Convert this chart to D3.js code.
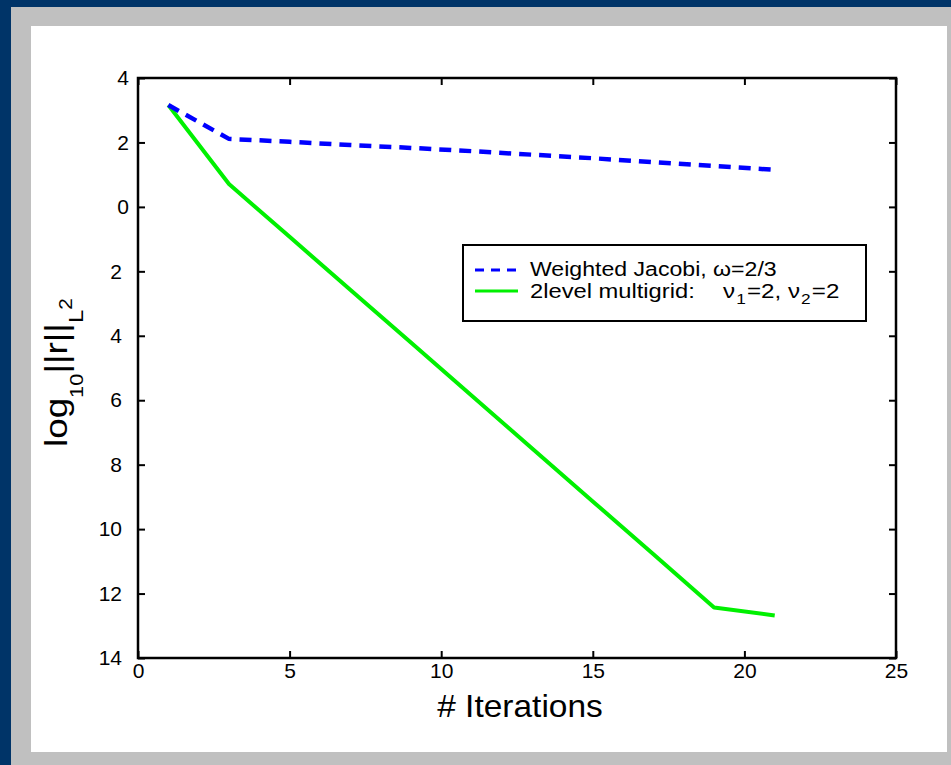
<!DOCTYPE html>
<html>
<head>
<meta charset="utf-8">
<script src="https://cdn.jsdelivr.net/npm/d3@7"></script>
<style>
  body { margin: 0; background: #003468; }
  svg { display: block; }
  .keep-space { white-space: pre; }
</style>
</head>
<body>
<svg id="chart" width="951" height="765"></svg>
<script>
// Residual norm history (log10 of the L2 norm) per iteration
const iterations = [1, 3, 5, 7, 9, 11, 13, 15, 17, 19, 21];
const jacobiResidual = [3.16, 2.11, 2.02, 1.92, 1.83, 1.73, 1.62, 1.51, 1.39, 1.27, 1.15];
const multigridResidual = [3.16, 0.71, -0.93, -2.57, -4.21, -5.85, -7.50, -9.14, -10.78, -12.43, -12.68];

// Axis ticks and their printed labels
const xTickValues = [0, 5, 10, 15, 20, 25];
const yTickValues = [4, 2, 0, -2, -4, -6, -8, -10, -12, -14];
const yTickLabels = ["4", "2", "0", "2", "4", "6", "8", "10", "12", "14"];

const FONT = "'Liberation Sans', Arial, Helvetica, sans-serif";
const svg = d3.select("#chart");

// Frame: dark border, grey mat, white canvas
svg.append("rect").attr("x", 0).attr("y", 0).attr("width", 951).attr("height", 765).attr("fill", "#003468");
svg.append("rect").attr("x", 11).attr("y", 7).attr("width", 940).attr("height", 758).attr("fill", "#c0c0c0");
svg.append("rect").attr("x", 31).attr("y", 26).attr("width", 916).attr("height", 726).attr("fill", "#ffffff");

const plot = { left: 138, right: 896, top: 78, bottom: 658 };
const x = d3.scaleLinear().domain([0, 25]).range([plot.left, plot.right]);
const y = d3.scaleLinear().domain([-14, 4]).range([plot.bottom, plot.top]);

function styleAxis(g) {
  g.attr("font-family", FONT).attr("font-size", 21);
  g.select(".domain").remove();
  g.selectAll(".tick line").attr("stroke", "#000").attr("stroke-width", 2);
  g.selectAll(".tick text").attr("fill", "#000");
}

// Bottom axis with labels
svg.append("g")
  .attr("transform", `translate(0,${plot.bottom})`)
  .call(d3.axisBottom(x).tickValues(xTickValues).tickFormat(d3.format("d")).tickSize(-7).tickSizeOuter(0).tickPadding(5))
  .call(styleAxis);

// Top axis, ticks only
svg.append("g")
  .attr("transform", `translate(0,${plot.top})`)
  .call(d3.axisTop(x).tickValues(xTickValues).tickFormat("").tickSize(-7).tickSizeOuter(0))
  .call(styleAxis);

// Left axis with labels (negative values printed without sign)
svg.append("g")
  .attr("transform", `translate(${plot.left},0)`)
  .call(d3.axisLeft(y).tickValues(yTickValues).tickFormat((d, i) => yTickLabels[i]).tickSize(-7).tickSizeOuter(0).tickPadding(9))
  .call(styleAxis)
  .selectAll(".tick text")
  .attr("dx", d => d < 0 ? -7 : 0);

// Right axis, ticks only
svg.append("g")
  .attr("transform", `translate(${plot.right},0)`)
  .call(d3.axisRight(y).tickValues(yTickValues).tickFormat("").tickSize(-7).tickSizeOuter(0))
  .call(styleAxis);

// Plot box
svg.append("rect")
  .attr("x", plot.left).attr("y", plot.top)
  .attr("width", plot.right - plot.left).attr("height", plot.bottom - plot.top)
  .attr("fill", "none").attr("stroke", "#000").attr("stroke-width", 2.5);

// Series lines
const jacobiPts = iterations.map((it, i) => [it, jacobiResidual[i]]);
const multigridPts = iterations.map((it, i) => [it, multigridResidual[i]]);
const line = d3.line().x(d => x(d[0])).y(d => y(d[1]));

svg.append("path")
  .datum(multigridPts)
  .attr("d", line)
  .attr("fill", "none").attr("stroke", "#00f000").attr("stroke-width", 4)
  .attr("stroke-linejoin", "round");

svg.append("path")
  .datum(jacobiPts)
  .attr("d", line)
  .attr("fill", "none").attr("stroke", "#0000ff").attr("stroke-width", 4.5)
  .attr("stroke-dasharray", "12,8");

// Axis titles
svg.append("text")
  .attr("transform", "translate(520,717) scale(1.08,1)")
  .attr("text-anchor", "middle")
  .attr("font-family", FONT).attr("font-size", 31)
  .text("# Iterations");

const ylab = svg.append("text")
  .attr("transform", "translate(67,447) rotate(-90) scale(1.15,1)")
  .attr("font-family", FONT).attr("font-size", 32);
ylab.append("tspan").text("log");
ylab.append("tspan").attr("font-size", 19).attr("dy", 16).text("10");
ylab.append("tspan").attr("font-size", 32).attr("dy", -16).text("||r||");
ylab.append("tspan").attr("font-size", 21).attr("dy", 16).text("L");
ylab.append("tspan").attr("font-size", 18).attr("dy", -11).text("2");

// Legend
const legend = svg.append("g");
legend.append("rect")
  .attr("x", 463).attr("y", 245).attr("width", 403).attr("height", 76)
  .attr("fill", "#fff").attr("stroke", "#000").attr("stroke-width", 2);
legend.append("line")
  .attr("x1", 475).attr("x2", 518).attr("y1", 270).attr("y2", 270)
  .attr("stroke", "#0000ff").attr("stroke-width", 3).attr("stroke-dasharray", "9,7");
legend.append("line")
  .attr("x1", 475).attr("x2", 518).attr("y1", 291).attr("y2", 291)
  .attr("stroke", "#00f000").attr("stroke-width", 3);

legend.append("text")
  .attr("class", "keep-space")
  .attr("transform", "translate(530,276) scale(1.1,1)")
  .attr("font-family", FONT).attr("font-size", 21)
  .text("Weighted Jacobi, ω=2/3");

legend.append("text")
  .attr("transform", "translate(530,298) scale(1.13,1)")
  .attr("font-family", FONT).attr("font-size", 21)
  .text("2level multigrid:");

const smooth = legend.append("text")
  .attr("class", "keep-space")
  .attr("transform", "translate(723,298) scale(1.15,1)")
  .attr("font-family", FONT).attr("font-size", 21);
smooth.append("tspan").text("ν");
smooth.append("tspan").attr("font-size", 15).attr("dx", 1).attr("dy", 6).text("1");
smooth.append("tspan").attr("font-size", 21).attr("dx", 1).attr("dy", -6).text("=2, ");
smooth.append("tspan").text("ν");
smooth.append("tspan").attr("font-size", 15).attr("dx", 1).attr("dy", 6).text("2");
smooth.append("tspan").attr("font-size", 21).attr("dx", 1).attr("dy", -6).text("=2");
</script>
</body>
</html>
